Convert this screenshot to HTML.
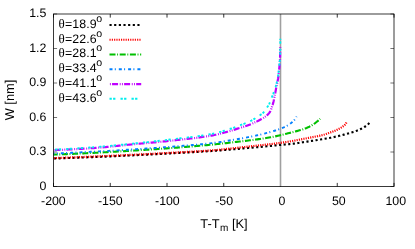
<!DOCTYPE html>
<html><head><meta charset="utf-8"><title>plot</title>
<style>html,body{margin:0;padding:0;background:#fff;}svg{display:block;will-change:transform;}text{font-family:"Liberation Sans",sans-serif;font-size:12.35px;fill:#000;text-rendering:geometricPrecision;}.th{font-family:"Liberation Serif",serif;font-size:13px;}.s{font-size:9.6px;}.s2{font-size:10.6px;}</style></head><body>
<svg width="415" height="249" viewBox="0 0 415 249">
<rect x="0" y="0" width="415" height="249" fill="#fff"/>
<path d="M53.50,186.5 V182.9 M53.50,14.0 V17.6 M110.25,186.5 V182.9 M110.25,14.0 V17.6 M167.00,186.5 V182.9 M167.00,14.0 V17.6 M223.75,186.5 V182.9 M223.75,14.0 V17.6 M280.50,186.5 V182.9 M280.50,14.0 V17.6 M337.25,186.5 V182.9 M337.25,14.0 V17.6 M394.00,186.5 V182.9 M394.00,14.0 V17.6" stroke="#000" stroke-width="0.8" fill="none"/>
<path d="M53.5,186.50 H57.1 M394.0,186.50 H390.4 M53.5,152.00 H57.1 M394.0,152.00 H390.4 M53.5,117.50 H57.1 M394.0,117.50 H390.4 M53.5,83.00 H57.1 M394.0,83.00 H390.4 M53.5,48.50 H57.1 M394.0,48.50 H390.4 M53.5,14.00 H57.1 M394.0,14.00 H390.4" stroke="#000" stroke-width="0.55" fill="none"/>
<text x="53.40" y="204.9" text-anchor="middle">-200</text>
<text x="110.35" y="204.9" text-anchor="middle">-150</text>
<text x="167.40" y="204.9" text-anchor="middle">-100</text>
<text x="224.15" y="204.9" text-anchor="middle">-50</text>
<text x="281.85" y="204.9" text-anchor="middle">0</text>
<text x="338.85" y="204.9" text-anchor="middle">50</text>
<text x="395.80" y="204.9" text-anchor="middle">100</text>
<text x="46.4" y="190.00" text-anchor="end">0</text>
<text x="46.4" y="155.00" text-anchor="end">0.3</text>
<text x="46.4" y="121.10" text-anchor="end">0.6</text>
<text x="46.4" y="86.10" text-anchor="end">0.9</text>
<text x="46.4" y="51.70" text-anchor="end">1.2</text>
<text x="46.4" y="17.00" text-anchor="end">1.5</text>
<text transform="translate(13.9,100) rotate(-90)" text-anchor="middle" style="font-size:12.85px">W [nm]</text>
<text x="224" y="227.5" text-anchor="middle" style="font-size:12.85px">T-T<tspan style="font-size:10px" dx="0.5" dy="3.5">m</tspan><tspan dy="-3.5"> [K]</tspan></text>
<path d="M280.50,14.0 V186.5" stroke="#a0a0a0" stroke-width="1.6" fill="none"/>
<path d="M369.40,123.00 L368.31,124.05 L367.17,125.03 L365.99,125.94 L364.77,126.79 L363.49,127.56 L362.17,128.27 L360.83,128.94 L359.48,129.58 L358.11,130.19 L356.72,130.75 L355.32,131.26 L353.90,131.73 L352.48,132.17 L351.04,132.60 L349.60,133.01 L348.16,133.43 L346.72,133.84 L345.28,134.24 L343.84,134.64 L342.39,135.02 L340.94,135.40 L339.49,135.76 L338.04,136.10 L336.58,136.44 L335.12,136.77 L333.66,137.08 L332.19,137.39 L330.72,137.68 L329.26,137.96 L327.78,138.23 L326.31,138.49 L324.84,138.74 L323.36,138.99 L321.89,139.23 L320.41,139.48 L318.94,139.73 L317.46,139.97 L315.98,140.21 L314.51,140.45 L313.03,140.69 L311.55,140.92 L310.07,141.15 L308.60,141.38 L307.12,141.60 L305.64,141.83 L304.16,142.05 L302.68,142.27 L301.20,142.50 L299.72,142.74 L298.25,142.98 L296.77,143.22 L295.29,143.44 L293.81,143.64 L292.32,143.81 L290.84,143.97 L289.35,144.11 L287.86,144.24 L286.37,144.37 L284.88,144.50 L283.39,144.62 L281.90,144.76 L280.41,144.90 L278.92,145.05 L277.43,145.21 L275.94,145.37 L274.46,145.53 L272.97,145.69 L271.48,145.85 L269.99,146.00 L268.50,146.14 L267.02,146.29 L265.53,146.43 L264.04,146.56 L262.55,146.70 L261.06,146.83 L259.57,146.96 L258.08,147.09 L256.59,147.22 L255.10,147.35 L253.61,147.48 L252.12,147.61 L250.63,147.74 L249.14,147.88 L247.65,148.01 L246.16,148.14 L244.67,148.28 L243.18,148.41 L241.69,148.54 L240.20,148.68 L238.71,148.81 L237.22,148.94 L235.73,149.07 L234.24,149.20 L232.75,149.32 L231.26,149.45 L229.77,149.57 L228.27,149.70 L226.78,149.82 L225.29,149.95 L223.80,150.07 L222.31,150.20 L220.82,150.32 L219.33,150.43 L217.84,150.55 L216.35,150.66 L214.85,150.77 L213.36,150.88 L211.87,150.98 L210.38,151.08 L208.89,151.17 L207.39,151.27 L205.90,151.36 L204.41,151.45 L202.92,151.54 L201.42,151.63 L199.93,151.72 L198.44,151.81 L196.94,151.89 L195.45,151.98 L193.96,152.06 L192.46,152.15 L190.97,152.23 L189.47,152.31 L187.98,152.39 L186.49,152.47 L184.99,152.55 L183.50,152.63 L182.01,152.71 L180.51,152.79 L179.02,152.87 L177.52,152.95 L176.03,153.03 L174.54,153.12 L173.04,153.20 L171.55,153.28 L170.06,153.36 L168.56,153.44 L167.07,153.52 L165.58,153.61 L164.08,153.69 L162.59,153.77 L161.09,153.85 L159.60,153.93 L158.11,154.01 L156.61,154.09 L155.12,154.17 L153.63,154.25 L152.13,154.33 L150.64,154.41 L149.15,154.48 L147.65,154.56 L146.16,154.64 L144.66,154.72 L143.17,154.79 L141.68,154.87 L140.18,154.94 L138.69,155.02 L137.19,155.09 L135.70,155.17 L134.21,155.24 L132.71,155.31 L131.22,155.39 L129.72,155.46 L128.23,155.53 L126.74,155.60 L125.24,155.67 L123.75,155.74 L122.25,155.81 L120.76,155.89 L119.27,155.96 L117.77,156.02 L116.28,156.09 L114.78,156.16 L113.29,156.23 L111.79,156.30 L110.30,156.37 L108.81,156.43 L107.31,156.50 L105.82,156.56 L104.32,156.63 L102.83,156.69 L101.33,156.76 L99.84,156.82 L98.34,156.88 L96.85,156.94 L95.36,157.01 L93.86,157.07 L92.37,157.13 L90.87,157.18 L89.38,157.24 L87.88,157.30 L86.39,157.36 L84.89,157.42 L83.40,157.47 L81.90,157.53 L80.41,157.58 L78.91,157.64 L77.42,157.69 L75.92,157.75 L74.43,157.80 L72.94,157.86 L71.44,157.91 L69.95,157.96 L68.45,158.01 L66.96,158.06 L65.46,158.11 L63.97,158.16 L62.47,158.21 L60.98,158.26 L59.48,158.31 L57.99,158.36 L56.49,158.41 L55.00,158.45 L53.50,158.50" stroke="#000000" stroke-width="2.15" stroke-dasharray="2.15 2.45" stroke-dashoffset="0" fill="none"/>
<path d="M346.50,122.50 L345.68,123.80 L344.74,124.96 L343.68,125.96 L342.45,126.82 L341.15,127.60 L339.85,128.34 L338.52,129.03 L337.17,129.69 L335.81,130.32 L334.44,130.91 L333.05,131.47 L331.65,132.00 L330.24,132.51 L328.83,133.02 L327.42,133.54 L326.00,134.03 L324.58,134.50 L323.15,134.93 L321.70,135.30 L320.25,135.64 L318.79,135.95 L317.32,136.24 L315.84,136.52 L314.37,136.79 L312.89,137.07 L311.42,137.35 L309.95,137.64 L308.48,137.93 L307.01,138.22 L305.54,138.50 L304.07,138.78 L302.60,139.06 L301.13,139.34 L299.66,139.62 L298.19,139.90 L296.72,140.18 L295.25,140.46 L293.78,140.73 L292.30,141.00 L290.83,141.26 L289.35,141.51 L287.88,141.75 L286.40,142.00 L284.92,142.23 L283.44,142.46 L281.96,142.68 L280.48,142.89 L278.99,143.09 L277.51,143.29 L276.02,143.48 L274.54,143.66 L273.05,143.84 L271.56,144.02 L270.08,144.19 L268.59,144.36 L267.10,144.54 L265.61,144.70 L264.13,144.87 L262.64,145.03 L261.15,145.19 L259.66,145.35 L258.17,145.51 L256.68,145.67 L255.19,145.83 L253.71,145.99 L252.22,146.16 L250.73,146.32 L249.24,146.48 L247.75,146.65 L246.26,146.82 L244.78,146.99 L243.29,147.16 L241.80,147.33 L240.31,147.50 L238.83,147.66 L237.34,147.83 L235.85,147.99 L234.36,148.15 L232.87,148.31 L231.38,148.47 L229.90,148.63 L228.41,148.79 L226.92,148.95 L225.43,149.11 L223.94,149.27 L222.45,149.43 L220.96,149.58 L219.47,149.73 L217.98,149.87 L216.49,150.01 L215.00,150.14 L213.51,150.26 L212.01,150.38 L210.52,150.49 L209.03,150.59 L207.54,150.70 L206.04,150.80 L204.55,150.90 L203.06,151.00 L201.56,151.10 L200.07,151.19 L198.57,151.28 L197.08,151.37 L195.58,151.46 L194.09,151.54 L192.59,151.63 L191.10,151.71 L189.60,151.80 L188.11,151.88 L186.61,151.96 L185.12,152.04 L183.62,152.12 L182.13,152.20 L180.63,152.28 L179.13,152.36 L177.64,152.44 L176.14,152.53 L174.65,152.61 L173.15,152.69 L171.66,152.77 L170.16,152.86 L168.67,152.94 L167.17,153.02 L165.68,153.11 L164.18,153.19 L162.69,153.27 L161.19,153.35 L159.70,153.43 L158.20,153.51 L156.71,153.59 L155.21,153.67 L153.72,153.75 L152.22,153.83 L150.73,153.91 L149.23,153.98 L147.74,154.06 L146.24,154.14 L144.75,154.22 L143.25,154.29 L141.76,154.37 L140.26,154.44 L138.77,154.52 L137.27,154.59 L135.78,154.66 L134.28,154.74 L132.78,154.81 L131.29,154.88 L129.79,154.95 L128.30,155.03 L126.80,155.10 L125.31,155.17 L123.81,155.24 L122.32,155.31 L120.82,155.38 L119.32,155.45 L117.83,155.52 L116.33,155.59 L114.84,155.65 L113.34,155.72 L111.85,155.79 L110.35,155.86 L108.85,155.92 L107.36,155.99 L105.86,156.05 L104.37,156.12 L102.87,156.18 L101.38,156.25 L99.88,156.31 L98.38,156.38 L96.89,156.44 L95.39,156.50 L93.90,156.56 L92.40,156.62 L90.90,156.69 L89.41,156.75 L87.91,156.81 L86.42,156.87 L84.92,156.93 L83.42,156.99 L81.93,157.05 L80.43,157.11 L78.94,157.16 L77.44,157.22 L75.94,157.28 L74.45,157.34 L72.95,157.39 L71.46,157.45 L69.96,157.51 L68.46,157.56 L66.97,157.62 L65.47,157.67 L63.97,157.73 L62.48,157.78 L60.98,157.84 L59.49,157.89 L57.99,157.94 L56.49,158.00 L55.00,158.05 L53.50,158.10" stroke="#ff0000" stroke-width="2.2" stroke-dasharray="1.15 1.15" stroke-dashoffset="0" fill="none"/>
<path d="M320.10,118.80 L319.02,119.84 L317.92,120.84 L316.78,121.80 L315.61,122.73 L314.41,123.62 L313.18,124.47 L311.92,125.25 L310.62,125.99 L309.29,126.69 L307.94,127.34 L306.58,127.91 L305.19,128.44 L303.79,128.94 L302.37,129.41 L300.94,129.86 L299.50,130.29 L298.07,130.71 L296.64,131.12 L295.20,131.51 L293.75,131.89 L292.31,132.25 L290.86,132.61 L289.41,132.97 L287.96,133.33 L286.52,133.70 L285.07,134.07 L283.62,134.43 L282.17,134.78 L280.72,135.13 L279.27,135.46 L277.81,135.79 L276.36,136.12 L274.90,136.43 L273.44,136.74 L271.97,137.03 L270.51,137.31 L269.04,137.57 L267.57,137.81 L266.10,138.05 L264.63,138.28 L263.15,138.51 L261.68,138.72 L260.20,138.94 L258.72,139.14 L257.24,139.35 L255.76,139.55 L254.28,139.74 L252.80,139.94 L251.32,140.13 L249.84,140.32 L248.36,140.51 L246.88,140.69 L245.40,140.87 L243.92,141.05 L242.44,141.22 L240.96,141.40 L239.47,141.57 L237.99,141.73 L236.51,141.90 L235.03,142.07 L233.55,142.24 L232.06,142.41 L230.58,142.58 L229.10,142.75 L227.62,142.92 L226.13,143.09 L224.65,143.25 L223.17,143.42 L221.69,143.59 L220.20,143.75 L218.72,143.91 L217.24,144.07 L215.75,144.22 L214.27,144.37 L212.79,144.52 L211.30,144.66 L209.82,144.81 L208.33,144.95 L206.85,145.09 L205.36,145.22 L203.87,145.36 L202.39,145.49 L200.90,145.63 L199.42,145.76 L197.93,145.89 L196.44,146.02 L194.96,146.14 L193.47,146.27 L191.98,146.40 L190.50,146.52 L189.01,146.64 L187.52,146.76 L186.04,146.88 L184.55,147.00 L183.06,147.12 L181.58,147.24 L180.09,147.36 L178.60,147.47 L177.11,147.59 L175.63,147.70 L174.14,147.81 L172.65,147.93 L171.16,148.04 L169.68,148.15 L168.19,148.26 L166.70,148.36 L165.21,148.47 L163.72,148.58 L162.24,148.68 L160.75,148.79 L159.26,148.89 L157.77,148.99 L156.28,149.09 L154.79,149.20 L153.31,149.30 L151.82,149.39 L150.33,149.49 L148.84,149.59 L147.35,149.69 L145.86,149.79 L144.37,149.88 L142.89,149.98 L141.40,150.07 L139.91,150.17 L138.42,150.26 L136.93,150.35 L135.44,150.45 L133.95,150.54 L132.46,150.63 L130.97,150.73 L129.49,150.82 L128.00,150.91 L126.51,151.00 L125.02,151.09 L123.53,151.18 L122.04,151.27 L120.55,151.37 L119.06,151.45 L117.57,151.54 L116.08,151.63 L114.59,151.72 L113.11,151.81 L111.62,151.89 L110.13,151.98 L108.64,152.07 L107.15,152.15 L105.66,152.23 L104.17,152.32 L102.68,152.40 L101.19,152.48 L99.70,152.56 L98.21,152.64 L96.72,152.71 L95.23,152.79 L93.74,152.86 L92.25,152.94 L90.76,153.01 L89.27,153.08 L87.78,153.15 L86.29,153.22 L84.80,153.29 L83.31,153.36 L81.82,153.43 L80.33,153.50 L78.84,153.57 L77.35,153.64 L75.86,153.70 L74.37,153.77 L72.88,153.83 L71.39,153.90 L69.90,153.96 L68.41,154.02 L66.92,154.08 L65.43,154.14 L63.94,154.20 L62.44,154.26 L60.95,154.32 L59.46,154.38 L57.97,154.44 L56.48,154.49 L54.99,154.55 L53.50,154.60" stroke="#00c000" stroke-width="2.1" stroke-dasharray="0.9 1.65 6 1.65" stroke-dashoffset="0.4" fill="none"/>
<path d="M296.55,116.50 L295.83,117.84 L295.02,119.10 L294.12,120.27 L293.11,121.35 L291.98,122.35 L290.81,123.29 L289.62,124.20 L288.37,125.04 L287.09,125.78 L285.76,126.45 L284.40,127.08 L283.02,127.67 L281.62,128.23 L280.23,128.76 L278.83,129.28 L277.42,129.78 L276.01,130.27 L274.58,130.73 L273.15,131.18 L271.72,131.61 L270.28,132.02 L268.85,132.42 L267.41,132.80 L265.96,133.18 L264.51,133.55 L263.06,133.91 L261.61,134.26 L260.15,134.60 L258.69,134.93 L257.23,135.26 L255.77,135.58 L254.31,135.90 L252.84,136.21 L251.38,136.52 L249.92,136.82 L248.45,137.11 L246.99,137.40 L245.52,137.68 L244.05,137.96 L242.58,138.23 L241.11,138.50 L239.64,138.76 L238.16,139.02 L236.69,139.27 L235.22,139.53 L233.74,139.78 L232.27,140.02 L230.79,140.27 L229.32,140.52 L227.85,140.77 L226.37,141.02 L224.89,141.27 L223.42,141.51 L221.94,141.75 L220.46,141.98 L218.99,142.20 L217.51,142.41 L216.03,142.62 L214.55,142.81 L213.06,142.99 L211.58,143.16 L210.10,143.33 L208.61,143.49 L207.13,143.65 L205.64,143.81 L204.16,143.96 L202.67,144.11 L201.18,144.25 L199.69,144.39 L198.21,144.53 L196.72,144.67 L195.23,144.80 L193.74,144.93 L192.25,145.06 L190.76,145.18 L189.27,145.31 L187.78,145.43 L186.29,145.55 L184.79,145.67 L183.30,145.79 L181.81,145.91 L180.32,146.03 L178.83,146.14 L177.34,146.26 L175.85,146.38 L174.36,146.49 L172.87,146.61 L171.38,146.73 L169.89,146.84 L168.40,146.96 L166.91,147.07 L165.42,147.18 L163.93,147.29 L162.44,147.40 L160.95,147.51 L159.46,147.62 L157.96,147.73 L156.47,147.83 L154.98,147.94 L153.49,148.04 L152.00,148.15 L150.51,148.25 L149.02,148.35 L147.53,148.45 L146.03,148.55 L144.54,148.65 L143.05,148.75 L141.56,148.85 L140.07,148.95 L138.58,149.04 L137.08,149.14 L135.59,149.24 L134.10,149.33 L132.61,149.42 L131.12,149.52 L129.63,149.61 L128.13,149.70 L126.64,149.80 L125.15,149.89 L123.66,149.98 L122.17,150.07 L120.67,150.16 L119.18,150.24 L117.69,150.33 L116.20,150.42 L114.71,150.51 L113.21,150.59 L111.72,150.68 L110.23,150.76 L108.74,150.85 L107.24,150.93 L105.75,151.01 L104.26,151.10 L102.77,151.18 L101.27,151.26 L99.78,151.34 L98.29,151.42 L96.80,151.50 L95.30,151.58 L93.81,151.66 L92.32,151.74 L90.83,151.81 L89.33,151.89 L87.84,151.97 L86.35,152.04 L84.85,152.12 L83.36,152.20 L81.87,152.27 L80.38,152.34 L78.88,152.42 L77.39,152.49 L75.90,152.57 L74.40,152.64 L72.91,152.71 L71.42,152.78 L69.93,152.85 L68.43,152.92 L66.94,152.99 L65.45,153.06 L63.95,153.13 L62.46,153.20 L60.97,153.27 L59.47,153.34 L57.98,153.40 L56.49,153.47 L54.99,153.53 L53.50,153.60" stroke="#0080ff" stroke-width="1.9" stroke-dasharray="3 3 1 2.3" stroke-dashoffset="2.5" fill="none"/>
<path d="M280.20,46.90 L280.20,48.40 L280.19,49.89 L280.17,51.39 L280.16,52.89 L280.13,54.38 L280.11,55.88 L280.07,57.37 L280.00,58.87 L279.91,60.36 L279.82,61.86 L279.71,63.35 L279.59,64.84 L279.45,66.33 L279.31,67.82 L279.16,69.31 L279.01,70.80 L278.85,72.29 L278.68,73.78 L278.52,75.26 L278.34,76.75 L278.14,78.23 L277.88,79.71 L277.60,81.18 L277.31,82.65 L277.00,84.11 L276.69,85.57 L276.37,87.04 L276.08,88.51 L275.82,89.98 L275.55,91.45 L275.28,92.92 L274.97,94.39 L274.66,95.85 L274.36,97.32 L274.08,98.79 L273.81,100.26 L273.50,101.72 L273.13,103.17 L272.71,104.61 L272.25,106.04 L271.78,107.46 L271.28,108.90 L270.74,110.31 L270.10,111.63 L269.29,112.85 L268.30,114.01 L267.20,115.07 L266.08,116.02 L264.90,116.90 L263.65,117.73 L262.35,118.51 L261.03,119.26 L259.70,119.98 L258.38,120.67 L257.05,121.36 L255.71,122.02 L254.35,122.66 L252.98,123.28 L251.61,123.88 L250.22,124.45 L248.83,125.00 L247.43,125.52 L246.02,126.01 L244.60,126.48 L243.18,126.93 L241.74,127.37 L240.31,127.80 L238.87,128.23 L237.44,128.67 L236.01,129.12 L234.58,129.58 L233.16,130.04 L231.73,130.49 L230.30,130.91 L228.86,131.32 L227.42,131.74 L225.98,132.15 L224.53,132.55 L223.09,132.95 L221.64,133.34 L220.18,133.71 L218.73,134.08 L217.27,134.42 L215.81,134.74 L214.35,135.04 L212.89,135.32 L211.42,135.58 L209.95,135.83 L208.48,136.07 L207.01,136.31 L205.53,136.54 L204.06,136.76 L202.58,136.98 L201.10,137.19 L199.61,137.39 L198.13,137.59 L196.64,137.79 L195.16,137.98 L193.67,138.16 L192.18,138.35 L190.69,138.53 L189.20,138.70 L187.71,138.87 L186.22,139.04 L184.73,139.21 L183.24,139.38 L181.75,139.54 L180.26,139.71 L178.77,139.87 L177.28,140.03 L175.79,140.19 L174.30,140.36 L172.82,140.52 L171.33,140.68 L169.84,140.84 L168.35,141.00 L166.87,141.15 L165.38,141.30 L163.89,141.45 L162.40,141.59 L160.91,141.74 L159.42,141.88 L157.93,142.02 L156.44,142.16 L154.95,142.30 L153.46,142.43 L151.97,142.57 L150.48,142.70 L148.99,142.84 L147.50,142.97 L146.00,143.11 L144.51,143.24 L143.02,143.38 L141.53,143.51 L140.04,143.65 L138.55,143.78 L137.06,143.92 L135.57,144.06 L134.08,144.20 L132.59,144.34 L131.10,144.48 L129.61,144.63 L128.12,144.78 L126.63,144.93 L125.14,145.08 L123.65,145.24 L122.16,145.39 L120.68,145.55 L119.19,145.70 L117.70,145.86 L116.21,146.01 L114.72,146.17 L113.23,146.32 L111.74,146.47 L110.25,146.62 L108.76,146.77 L107.27,146.92 L105.78,147.06 L104.29,147.20 L102.80,147.33 L101.31,147.46 L99.82,147.59 L98.33,147.71 L96.84,147.83 L95.35,147.94 L93.85,148.04 L92.36,148.14 L90.87,148.24 L89.38,148.34 L87.88,148.43 L86.39,148.53 L84.90,148.62 L83.40,148.71 L81.91,148.80 L80.42,148.89 L78.92,148.97 L77.43,149.06 L75.94,149.14 L74.44,149.22 L72.95,149.30 L71.45,149.38 L69.96,149.45 L68.46,149.52 L66.97,149.59 L65.47,149.66 L63.97,149.72 L62.48,149.79 L60.98,149.85 L59.49,149.90 L57.99,149.96 L56.49,150.01 L55.00,150.06 L53.50,150.10" stroke="#c000ff" stroke-width="2.2" stroke-dasharray="0.9 1.3 0.9 1.7 6 1.25" stroke-dashoffset="0" fill="none"/>
<path d="M280.30,38.85 L280.30,40.35 L280.29,41.85 L280.28,43.35 L280.27,44.85 L280.25,46.35 L280.23,47.85 L280.21,49.35 L280.19,50.85 L280.16,52.35 L280.11,53.85 L280.05,55.35 L279.98,56.85 L279.91,58.34 L279.83,59.84 L279.73,61.34 L279.60,62.83 L279.45,64.32 L279.28,65.81 L279.11,67.31 L278.94,68.80 L278.78,70.29 L278.61,71.78 L278.42,73.27 L278.23,74.76 L278.01,76.24 L277.76,77.72 L277.47,79.19 L277.16,80.66 L276.84,82.12 L276.50,83.58 L276.14,85.04 L275.75,86.49 L275.32,87.92 L274.86,89.35 L274.37,90.77 L273.86,92.18 L273.34,93.59 L272.79,94.98 L272.20,96.37 L271.64,97.76 L271.12,99.17 L270.61,100.59 L270.07,102.00 L269.50,103.37 L268.83,104.70 L268.03,105.97 L267.19,107.22 L266.36,108.49 L265.54,109.77 L264.68,111.02 L263.76,112.19 L262.74,113.24 L261.55,114.14 L260.28,114.98 L259.04,115.82 L257.79,116.65 L256.53,117.48 L255.26,118.30 L253.98,119.08 L252.69,119.84 L251.38,120.55 L250.05,121.22 L248.70,121.85 L247.32,122.46 L245.94,123.04 L244.54,123.60 L243.14,124.15 L241.73,124.69 L240.33,125.23 L238.93,125.76 L237.53,126.29 L236.12,126.80 L234.71,127.31 L233.29,127.81 L231.87,128.29 L230.45,128.76 L229.02,129.21 L227.59,129.67 L226.16,130.13 L224.72,130.58 L223.28,131.03 L221.84,131.46 L220.40,131.89 L218.95,132.29 L217.50,132.68 L216.05,133.04 L214.59,133.37 L213.13,133.67 L211.67,133.95 L210.20,134.23 L208.73,134.49 L207.26,134.74 L205.78,134.98 L204.31,135.22 L202.83,135.45 L201.35,135.67 L199.86,135.88 L198.38,136.09 L196.89,136.30 L195.40,136.50 L193.91,136.69 L192.42,136.88 L190.93,137.07 L189.43,137.25 L187.94,137.43 L186.44,137.61 L184.95,137.79 L183.46,137.96 L181.96,138.14 L180.47,138.31 L178.98,138.49 L177.48,138.66 L175.99,138.84 L174.50,139.02 L173.01,139.20 L171.52,139.38 L170.04,139.56 L168.55,139.74 L167.06,139.91 L165.57,140.09 L164.08,140.26 L162.59,140.43 L161.10,140.60 L159.61,140.77 L158.12,140.94 L156.63,141.11 L155.14,141.27 L153.64,141.44 L152.15,141.60 L150.66,141.76 L149.17,141.92 L147.68,142.08 L146.19,142.24 L144.69,142.40 L143.20,142.56 L141.71,142.71 L140.22,142.87 L138.73,143.02 L137.23,143.17 L135.74,143.32 L134.25,143.47 L132.76,143.62 L131.27,143.77 L129.77,143.93 L128.28,144.08 L126.79,144.23 L125.30,144.38 L123.80,144.53 L122.31,144.68 L120.82,144.83 L119.33,144.98 L117.83,145.13 L116.34,145.27 L114.85,145.42 L113.35,145.56 L111.86,145.70 L110.37,145.84 L108.87,145.98 L107.38,146.12 L105.88,146.26 L104.39,146.39 L102.90,146.52 L101.40,146.64 L99.91,146.77 L98.41,146.89 L96.92,147.01 L95.42,147.12 L93.93,147.23 L92.43,147.34 L90.94,147.45 L89.44,147.55 L87.95,147.65 L86.45,147.76 L84.95,147.86 L83.46,147.96 L81.96,148.06 L80.46,148.15 L78.97,148.25 L77.47,148.34 L75.97,148.44 L74.48,148.53 L72.98,148.61 L71.48,148.70 L69.98,148.79 L68.49,148.87 L66.99,148.95 L65.49,149.03 L63.99,149.11 L62.49,149.19 L60.99,149.26 L59.50,149.33 L58.00,149.40 L56.50,149.47 L55.00,149.54 L53.50,149.60" stroke="#00eeee" stroke-width="1.9" stroke-dasharray="2.3 1.3 2.3 5.1" stroke-dashoffset="1.1" fill="none"/>
<text x="58.4" y="28.10" letter-spacing="0.05"><tspan class="th">θ</tspan><tspan dx="0.4">=18.9</tspan><tspan class="s2" dx="-0.2" dy="-5.8">o</tspan></text>
<path d="M109.5,25.00 H141.2" stroke="#000000" stroke-width="2.15" stroke-dasharray="2.15 2.5" stroke-dashoffset="0" fill="none"/>
<text x="58.4" y="42.85" letter-spacing="0.05"><tspan class="th">θ</tspan><tspan dx="0.4">=22.6</tspan><tspan class="s2" dx="-0.2" dy="-5.8">o</tspan></text>
<path d="M109.5,39.76 H141.2" stroke="#ff0000" stroke-width="2.2" stroke-dasharray="1.15 1.15" stroke-dashoffset="0" fill="none"/>
<text x="58.4" y="57.15" letter-spacing="0.05"><tspan class="th">θ</tspan><tspan dx="0.4">=28.1</tspan><tspan class="s2" dx="-0.2" dy="-5.8">o</tspan></text>
<path d="M109.5,54.52 H141.2" stroke="#00c000" stroke-width="2.1" stroke-dasharray="6 1.65 0.9 1.65" stroke-dashoffset="0" fill="none"/>
<text x="58.4" y="72.15" letter-spacing="0.05"><tspan class="th">θ</tspan><tspan dx="0.4">=33.4</tspan><tspan class="s2" dx="-0.2" dy="-5.8">o</tspan></text>
<path d="M109.5,69.28 H141.2" stroke="#0080ff" stroke-width="1.9" stroke-dasharray="3 2.3 1 3" stroke-dashoffset="0" fill="none"/>
<text x="58.4" y="86.65" letter-spacing="0.05"><tspan class="th">θ</tspan><tspan dx="0.4">=41.1</tspan><tspan class="s2" dx="-0.2" dy="-5.8">o</tspan></text>
<path d="M109.5,84.04 H141.2" stroke="#c000ff" stroke-width="2.2" stroke-dasharray="6 1.7 0.9 1.3 0.9 1.25" stroke-dashoffset="9.5" fill="none"/>
<text x="58.4" y="101.70" letter-spacing="0.05"><tspan class="th">θ</tspan><tspan dx="0.4">=43.6</tspan><tspan class="s2" dx="-0.2" dy="-5.8">o</tspan></text>
<path d="M109.5,98.80 H141.2" stroke="#00eeee" stroke-width="1.9" stroke-dasharray="2.3 1.3 2.3 5.1" stroke-dashoffset="0" fill="none"/>
<rect x="53.5" y="14.0" width="340.50" height="172.50" stroke="#000" stroke-width="0.78" fill="none"/>
</svg></body></html>
